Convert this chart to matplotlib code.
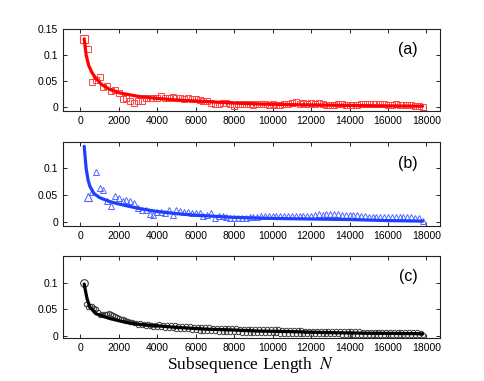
import matplotlib
matplotlib.use("Agg")
import matplotlib.pyplot as plt

# panel (a): red squares + fit
n_a = list(range(200, 17801, 200))
err_a = [
    0.131, 0.111, 0.047, 0.052, 0.058, 0.038, 0.040, 0.031, 0.033, 0.027,
    0.014, 0.017, 0.012, 0.008, 0.011, 0.011, 0.016, 0.016, 0.017, 0.016,
    0.020, 0.017, 0.017, 0.018, 0.017, 0.016, 0.015, 0.016, 0.014, 0.015,
    0.013, 0.012, 0.012, 0.008, 0.005, 0.006, 0.008, 0.007, 0.005, 0.002,
    0.005, 0.006, 0.006, 0.005, 0.004, 0.006, 0.005, 0.005, 0.004, 0.005,
    0.004, 0.003, 0.006, 0.005, 0.007, 0.009, 0.006, 0.007, 0.006, 0.007,
    0.006, 0.007, 0.006, 0.004, 0.003, 0.004, 0.005, 0.005, 0.004, 0.004,
    0.003, 0.004, 0.005, 0.005, 0.006, 0.005, 0.005, 0.005, 0.005, 0.004,
    0.004, 0.005, 0.004, 0.004, 0.004, 0.003, 0.002, 0.002, 0.000,
]
fit_a_n = [200, 300, 430, 600, 800, 1100, 1500, 2000, 3000, 4000, 5000,
           6500, 8000, 9500, 11000, 13000, 15000, 17800]
fit_a = [0.131, 0.100, 0.080, 0.066, 0.055, 0.043, 0.034, 0.027, 0.020,
         0.016, 0.013, 0.010, 0.007, 0.005, 0.004, 0.003, 0.002, 0.001]

# panel (b): blue triangles + fit
n_b = list(range(400, 17801, 200))
err_b = [
    0.046, 0.055, 0.093, 0.063, 0.060, 0.038, 0.030, 0.048, 0.044, 0.038,
    0.040, 0.038, 0.035, 0.025, 0.022, 0.022, 0.015, 0.012, 0.019, 0.019,
    0.017, 0.021, 0.013, 0.021, 0.020, 0.019, 0.019, 0.017, 0.017, 0.017,
    0.010, 0.013, 0.016, 0.006, 0.011, 0.010, 0.008, 0.007, 0.006, 0.006,
    0.007, 0.006, 0.008, 0.009, 0.009, 0.010, 0.010, 0.010, 0.010, 0.010,
    0.010, 0.010, 0.010, 0.010, 0.010, 0.011, 0.011, 0.011, 0.011, 0.013,
    0.014, 0.013, 0.014, 0.014, 0.014, 0.014, 0.013, 0.013, 0.012, 0.013,
    0.012, 0.011, 0.010, 0.009, 0.009, 0.009, 0.009, 0.009, 0.009, 0.009,
    0.009, 0.008, 0.008, 0.008, 0.008, 0.007, 0.006, 0.002,
]
fit_b_n = [200, 300, 400, 500, 700, 1000, 1500, 2000, 3000, 4000, 5000,
           6000, 7000, 8000, 10000, 12000, 14000, 16000, 17800]
fit_b = [0.141, 0.100, 0.078, 0.066, 0.053, 0.045, 0.038, 0.033, 0.025,
         0.019, 0.015, 0.012, 0.010, 0.008, 0.006, 0.005, 0.004, 0.002, 0.001]

# panel (c): black circles + fit
n_c = list(range(200, 17801, 100))
err_c = [
    0.100, 0.060, 0.055, 0.057, 0.056, 0.052, 0.050, 0.045, 0.039, 0.042,
    0.040, 0.042, 0.041, 0.043, 0.042, 0.039, 0.037, 0.036, 0.034, 0.032,
    0.031, 0.030, 0.029, 0.028, 0.027, 0.026, 0.025, 0.024, 0.021, 0.024,
    0.020, 0.023, 0.019, 0.022, 0.018, 0.021, 0.017, 0.021,
    0.016, 0.022, 0.016, 0.021, 0.015, 0.021, 0.015, 0.020, 0.014, 0.020,
    0.013, 0.019, 0.013, 0.019, 0.012, 0.018, 0.012, 0.018, 0.011, 0.017,
    0.011, 0.017, 0.010, 0.016, 0.010, 0.016, 0.009, 0.016, 0.009, 0.015,
    0.009, 0.015, 0.008, 0.015, 0.008, 0.014, 0.008, 0.014, 0.007, 0.014,
    0.007, 0.014, 0.007, 0.013, 0.006, 0.013, 0.006, 0.013, 0.006, 0.013,
    0.006, 0.013, 0.005, 0.012, 0.005, 0.012, 0.005, 0.012, 0.005, 0.012,
    0.005, 0.012, 0.005, 0.012, 0.004, 0.011, 0.004, 0.011, 0.004, 0.011,
    0.004, 0.011, 0.004, 0.011, 0.004, 0.011, 0.004, 0.010, 0.004, 0.010,
    0.004, 0.010, 0.003, 0.010, 0.003, 0.010, 0.003, 0.010, 0.003, 0.009,
    0.003, 0.009, 0.003, 0.009, 0.003, 0.009, 0.002, 0.009, 0.002, 0.009,
    0.002, 0.009, 0.002, 0.009, 0.002, 0.009, 0.002, 0.008, 0.002, 0.008,
    0.002, 0.008, 0.002, 0.008, 0.002, 0.008, 0.002, 0.008, 0.002, 0.008,
    0.002, 0.008, 0.002, 0.008, 0.002, 0.008, 0.002, 0.007, 0.002, 0.007,
    0.002, 0.007, 0.002, 0.007, 0.002, 0.007, 0.002, 0.006, 0.002,
]
fit_c_n = [200, 250, 350, 500, 800, 1500, 2300, 3000, 4000, 5000, 6600,
           8000, 9300, 11000, 13000, 15000, 17800]
fit_c = [0.098, 0.088, 0.070, 0.054, 0.042, 0.033, 0.026, 0.022, 0.019,
         0.016, 0.0126, 0.011, 0.009, 0.008, 0.006, 0.005, 0.004]

x_ticks = list(range(0, 18001, 2000))
panel_labels = ["(a)", "(b)", "(c)"]

plt.rcParams["font.family"] = ["Liberation Sans", "DejaVu Sans"]

fig = plt.figure(figsize=(4.85, 3.81), dpi=100)
boxes = [
    [0.130, 0.709, 0.777, 0.215],
    [0.130, 0.407, 0.777, 0.220],
    [0.130, 0.113, 0.777, 0.215],
]
panels = [
    (n_a, err_a, fit_a_n, fit_a, "s", "#ff4444", "#ff0000", (-0.008, 0.15), [0, 0.05, 0.1, 0.15]),
    (n_b, err_b, fit_b_n, fit_b, "^", "#5068ff", "#1f3fff", (-0.008, 0.149), [0, 0.05, 0.1]),
    (n_c, err_c, fit_c_n, fit_c, "o", "#3a3a3a", "#000000", (-0.004, 0.151), [0, 0.05, 0.1]),
]

for box, (nx, ny, fx, fy, mk, mcol, lcol, ylim, yt), lab in zip(boxes, panels, panel_labels):
    ax = fig.add_axes(box)
    ms = 4.0 if mk != "o" else 3.2
    ax.plot(nx[1:], ny[1:], linestyle="none", marker=mk, markersize=ms,
            markerfacecolor="none", markeredgecolor=mcol, markeredgewidth=0.7,
            zorder=2)
    # first point is drawn a bit larger in the original
    ax.plot(nx[:1], ny[:1], linestyle="none", marker=mk, markersize=5.5,
            markerfacecolor="none", markeredgecolor=mcol, markeredgewidth=0.8,
            zorder=2)
    ax.plot(fx, fy, color=lcol, linewidth=2.3, solid_capstyle="round", zorder=3)

    ax.set_xlim(-900, 18700)
    ax.set_ylim(*ylim)
    ax.set_xticks(x_ticks)
    ax.set_yticks(yt)
    ax.set_yticklabels(["0" if v == 0 else f"{v:g}" for v in yt])
    ax.tick_params(direction="in", length=3, width=0.6, labelsize=7.5,
                   top=True, right=True, pad=3.5)
    for s in ax.spines.values():
        s.set_linewidth(0.8)
        s.set_color("#222222")
    ax.text(0.94, 0.75, lab, transform=ax.transAxes, fontsize=11.5,
            ha="right", va="center")

fig.text(0.517, 0.043, "Subsequence Length  $N$", ha="center", va="center",
         fontsize=12.5, family=["Liberation Serif", "DejaVu Serif"],
         math_fontfamily="stix")

fig.savefig("out.png", dpi=100)
